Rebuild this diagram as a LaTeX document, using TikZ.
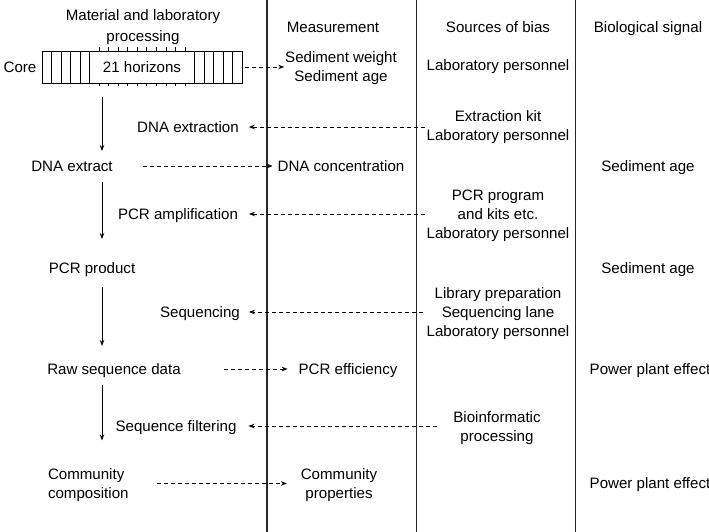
\documentclass[tikz,border=0pt]{standalone}
\usepackage{fontspec}
\setmainfont{Liberation Sans}
\usetikzlibrary{arrows.meta}
\begin{document}
\begin{tikzpicture}[x=1pt,y=-1pt,
  every node/.style={inner sep=0pt,outer sep=0pt,font=\fontsize{15.1}{19}\selectfont,align=center},
  one/.style={text height=10.8pt,text depth=0pt},
  two/.style={text height=29.8pt,text depth=0pt},
  three/.style={text height=48.8pt,text depth=0pt},
  colline/.style={line width=1.1pt,black!85},
  darr/.style={line width=0.8pt,dash pattern=on 4pt off 3pt,-{Stealth[length=6pt,width=4.5pt]}},
  sarr/.style={line width=1pt,-{Stealth[length=6pt,width=4.5pt]}}]
\useasboundingbox (0,0) rectangle (709,532);
% column separators
\draw[colline] (267,0) -- (267,532);
\draw[colline] (416.5,0) -- (416.5,532);
\draw[colline] (575.5,0) -- (575.5,532);
% headers
\node[two,font=\fontsize{15.1}{21}\selectfont,text height=31.8pt] (title) at (143,25.5) {Material and laboratory\\processing};
\node[one] (meas) at (333,27) {Measurement};
\node[one] (bias) at (498,27) {Sources of bias};
\node[one] (bio) at (648,27) {Biological signal};
% core
\node[one] (corel) at (20,67) {Core};
\node[draw,line width=0.8pt,minimum width=200pt,minimum height=32pt,text height=10.8pt,text depth=0pt] (box) at (142,67) {};
\foreach \k in {1,...,5,16,17,18,19,20}
  \draw[line width=0.8pt] ([xshift=\k*200/21*1pt]box.north west) -- ([xshift=\k*200/21*1pt]box.south west);
\foreach \k in {6,...,15}{
  \draw[line width=0.6pt] ([xshift=\k*200/21*1pt]box.north west) -- ++(0,3.5pt);
  \draw[line width=0.6pt] ([xshift=\k*200/21*1pt]box.south west) -- ++(0,-3.5pt);}
\node[one] (hz) at (box.center) {21 horizons};
\node[two] (sed) at (341,66.5) {Sediment weight\\Sediment age};
\node[one] (lp1) at (498,65) {Laboratory personnel};
% DNA extraction
\node[one] (dnaex) at (188,127) {DNA extraction};
\node[two] (extk) at (498,125.5) {Extraction kit\\Laboratory personnel};
\node[one] (dnaext) at (72,166) {DNA extract};
\node[one] (conc) at (341,166) {DNA concentration};
\node[one] (sage1) at (648,166) {Sediment age};
% PCR
\node[one] (pcramp) at (178,214) {PCR amplification};
\node[three] (pcrprog) at (498,214) {PCR program\\and kits etc.\\Laboratory personnel};
\node[one] (pcrprod) at (92,268) {PCR product};
\node[one] (sage2) at (648,268) {Sediment age};
% Sequencing
\node[one] (seqg) at (200,312) {Sequencing};
\node[three] (libprep) at (498,312) {Library preparation\\Sequencing lane\\Laboratory personnel};
\node[one] (raw) at (114,369) {Raw sequence data};
\node[one] (pcreff) at (348,369) {PCR efficiency};
\node[one] (ppe1) at (650,369) {Power plant effect};
% filtering
\node[one] (seqfilt) at (176,426) {Sequence filtering};
\node[two] (bioinf) at (497,426.5) {Bioinformatic\\processing};
\node[two,align=left,anchor=west] (comm) at (48,483.5) {Community\\composition};
\node[two] (commprop) at (339,483.5) {Community\\properties};
\node[one] (ppe2) at (650,483) {Power plant effect};
% spine of solid arrows
\coordinate (spine) at (102,0);
\draw[sarr] ([yshift=-14pt]box.south -| spine) -- ([yshift=15pt]dnaext.center -| spine);
\draw[sarr] ([yshift=-16pt]dnaext.center -| spine) -- ([yshift=29pt]pcrprod.center -| spine);
\draw[sarr] ([yshift=-19pt]pcrprod.center -| spine) -- ([yshift=23pt]raw.center -| spine);
\draw[sarr] ([yshift=-16pt]raw.center -| spine) -- ([yshift=43pt]comm.center -| spine);
% dashed connectors
\draw[darr,shorten <=3pt,shorten >=1pt] (box.east) -- (sed.west |- box.east);
\draw[darr,shorten <=2pt,shorten >=10pt] (extk.west |- dnaex.center) -- (dnaex.east);
\draw[darr,shorten <=30pt,shorten >=5pt] (dnaext.east) -- (conc.west);
\draw[darr,shorten <=2pt,shorten >=11pt] (pcrprog.west |- pcramp.center) -- (pcramp.east);
\draw[darr,shorten <=4pt,shorten >=9pt] (libprep.west |- seqg.center) -- (seqg.east);
\draw[darr,shorten <=43pt,shorten >=11pt] (raw.east) -- (pcreff.west);
\draw[darr,shorten <=16pt,shorten >=12pt] (bioinf.west |- seqfilt.center) -- (seqfilt.east);
\draw[darr,shorten <=28pt,shorten >=14pt] (comm.east |- commprop.center) -- (commprop.west);
\end{tikzpicture}
\end{document}
